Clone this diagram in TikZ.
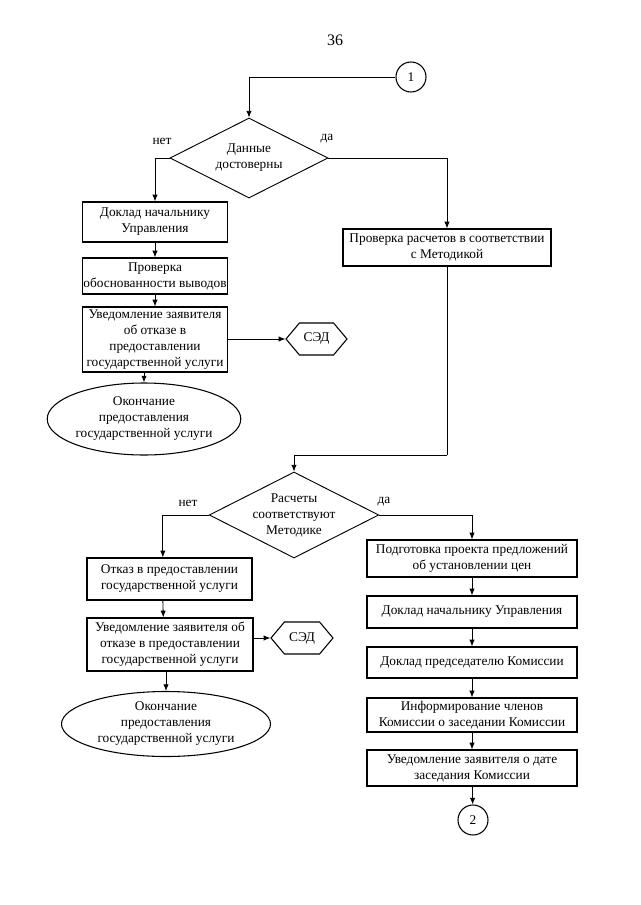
\documentclass[tikz,border=0pt]{standalone}
\usepackage{fontspec}
\setmainfont{Liberation Serif}
\usetikzlibrary{shapes.geometric,shapes.symbols,arrows.meta,calc}
\begin{document}
\begin{tikzpicture}[x=0.75pt,y=-0.75pt,
  every node/.style={font=\fontsize{10}{12}\selectfont},
  box/.style={draw, line width=1pt, inner sep=0pt, align=center},
  dia/.style={draw, diamond, aspect=2, inner sep=0pt, align=center, line width=0.7pt},
  oval/.style={draw, ellipse, inner sep=0pt, align=center, line width=0.8pt},
  hexa/.style={draw, signal, signal to=east and west, signal pointer angle=100, inner sep=0pt, line width=0.8pt, minimum width=61*0.75pt, minimum height=32*0.75pt},
  conn/.style={draw, circle, inner sep=0pt, minimum size=30*0.75pt, line width=0.8pt},
  lbl/.style={inner sep=0pt},
  arr/.style={-{Latex[length=5pt,width=4pt]}, line width=0.6pt},
  ln/.style={line width=0.6pt}]
\useasboundingbox (0,0) rectangle (640,905);
\fill[white] (0,0) rectangle (640,905);

\node[lbl, font=\fontsize{12}{14}\selectfont] (pg) at (335,40) {36};

% top part
\node[conn] (c1) at (411,77) {1};
\node[dia, minimum width=158*0.75pt, minimum height=80*0.75pt] (d1) at (249,158) {Данные\\достоверны};
\node[lbl] (no1) at (162,141) {нет};
\node[lbl] (yes1) at (327,139) {да};

\node[box, minimum width=145*0.75pt, minimum height=40*0.75pt] (b1) at (155,222) {Доклад начальнику\\Управления};
\node[box, minimum width=145*0.75pt, minimum height=36*0.75pt] (b2) at (155,276) {Проверка\\обоснованности выводов};
\node[box, minimum width=145*0.75pt, minimum height=65*0.75pt] (b3) at (155,339.5) {Уведомление заявителя\\об отказе в\\предоставлении\\государственной услуги};
\node[hexa] (h1) at (316.5,339) {СЭД};
\node[oval, minimum width=162*0.75pt, minimum height=72*0.75pt] (e1) at (144,419) {Окончание\\предоставления\\государственной услуги};

\node[box, minimum width=208*0.75pt, minimum height=37*0.75pt] (r1) at (447,247.5) {Проверка расчетов в соответствии\\с Методикой};

\draw[arr] (c1.west) -| (d1.north);
\draw[arr] (d1.west) -| (b1.north);
\draw[arr] (d1.east) -| (r1.north);
\draw[arr] (b1) -- (b2);
\draw[arr] (b2) -- (b3);
\draw[arr] (b3.east |- h1.west) -- (h1.west);
\draw[arr] (b3.south -| e1.north) -- (e1.north);

% lower part
\coordinate (k1) at (447,455);
\node[dia, minimum width=168*0.75pt, minimum height=86*0.75pt] (d2) at (294,515) {Расчеты\\соответствуют\\Методике};
\node[lbl] (no2) at (188,503) {нет};
\node[lbl] (yes2) at (384,502) {да};
\draw[ln] (r1.south) -- (k1);
\draw[arr] (k1) -| (d2.north);

\node[box, minimum width=165*0.75pt, minimum height=42*0.75pt] (l1) at (169.5,579) {Отказ в предоставлении\\государственной услуги};
\node[box, minimum width=166*0.75pt, minimum height=53*0.75pt] (l2) at (170,644.5) {Уведомление заявителя об\\отказе в предоставлении\\государственной услуги};
\node[hexa, minimum width=62*0.75pt] (h2) at (302,638) {СЭД};
\node[oval, minimum width=209*0.75pt, minimum height=65*0.75pt] (e2) at (166,724) {Окончание\\предоставления\\государственной услуги};

\draw[arr] (d2.west) -| ([xshift=-5pt]l1.north);
\draw[arr] ([xshift=-5pt]l1.south) -- ([xshift=-5pt]l2.north);
\draw[arr] (l2.east |- h2.west) -- (h2.west);
\draw[arr] (l2.south -| e2.north) -- (e2.north);

\node[box, minimum width=210*0.75pt, minimum height=37*0.75pt] (p1) at (472,558.5) {Подготовка проекта предложений\\об установлении цен};
\node[box, minimum width=210*0.75pt, minimum height=32*0.75pt] (p2) at (472,612) {Доклад начальнику Управления};
\node[box, minimum width=210*0.75pt, minimum height=31*0.75pt] (p3) at (472,662.5) {Доклад председателю Комиссии};
\node[box, minimum width=210*0.75pt, minimum height=34*0.75pt] (p4) at (472,715) {Информирование членов\\Комиссии о заседании Комиссии};
\node[box, minimum width=210*0.75pt, minimum height=36*0.75pt] (p5) at (472,768) {Уведомление заявителя о дате\\заседания Комиссии};
\node[conn] (c2) at (473,820) {2};

\draw[arr] (d2.east) -| (p1.north);
\draw[arr] (p1) -- (p2);
\draw[arr] (p2) -- (p3);
\draw[arr] (p3) -- (p4);
\draw[arr] (p4) -- (p5);
\draw[arr] (p5) -- (c2);
\end{tikzpicture}
\end{document}
